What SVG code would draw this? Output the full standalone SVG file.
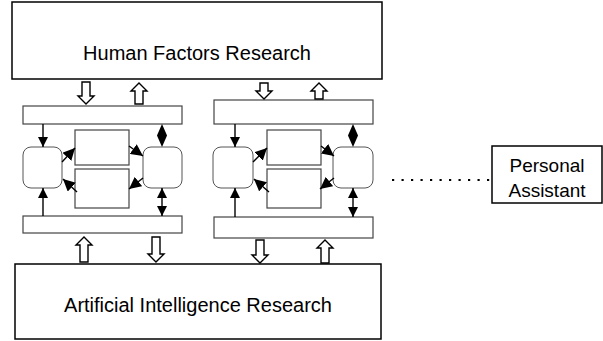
<svg xmlns="http://www.w3.org/2000/svg" width="603" height="341" viewBox="0 0 603 341">
<style>
.box{fill:#fff;stroke:#000;stroke-width:1.5}
.bar{fill:#fff;stroke:#444;stroke-width:1.2}
.rr{fill:#fff;stroke:#555;stroke-width:1}
.blk{fill:#fff;stroke:#000;stroke-width:1.4;stroke-linejoin:miter}
.ln{fill:none;stroke:#000;stroke-width:1.4}
.tri{fill:#000}
.t{font-family:"Liberation Sans",Arial,sans-serif;fill:#000;text-anchor:middle}
</style>
<defs>
<marker id="ah" viewBox="0 0 10 10" refX="10" refY="5" markerWidth="10" markerHeight="10" markerUnits="userSpaceOnUse" orient="auto-start-reverse"><path d="M0,0 L10,5 L0,10 Z" fill="#000"/></marker>
<marker id="ahb" viewBox="0 0 10 10" refX="10" refY="5" markerWidth="12" markerHeight="12" markerUnits="userSpaceOnUse" orient="auto"><path d="M0,0 L10,5 L0,10 Z" fill="#000"/></marker>
</defs>
<rect width="603" height="341" fill="#fff"/>
<g id="human-factors"><rect class="box" x="12" y="2" width="370" height="77"/><text class="t" x="197" y="60" font-size="20">Human Factors Research</text></g>
<g id="ai-research"><rect class="box" x="15" y="264" width="366" height="75"/><text class="t" x="198" y="312" font-size="20">Artificial Intelligence Research</text></g>
<g id="m1-topbar"><rect class="bar" x="23" y="106" width="159" height="18"/></g>
<g id="m1-botbar"><rect class="bar" x="23" y="216" width="159" height="17"/></g>
<g id="m1-left"><rect class="rr" x="23" y="147" width="39" height="41" rx="8"/></g>
<g id="m1-right"><rect class="rr" x="143" y="147" width="39" height="41" rx="8"/></g>
<g id="m1-ctop"><rect class="bar" x="75" y="130" width="54" height="35"/></g>
<g id="m1-cbot"><rect class="bar" x="75" y="169" width="54" height="39"/></g>
<g id="m2-topbar"><rect class="bar" x="214" y="100" width="159" height="24"/></g>
<g id="m2-botbar"><rect class="bar" x="214" y="217" width="159" height="21"/></g>
<g id="m2-left"><rect class="rr" x="213" y="147" width="40" height="41" rx="8"/></g>
<g id="m2-right"><rect class="rr" x="333" y="147" width="40" height="41" rx="8"/></g>
<g id="m2-ctop"><rect class="bar" x="267" y="130" width="54" height="35"/></g>
<g id="m2-cbot"><rect class="bar" x="267" y="169" width="54" height="39"/></g>
<g id="personal-assistant"><rect class="box" x="492" y="146" width="110" height="57"/><text class="t" x="547" y="172" font-size="19">Personal</text><text class="t" x="547" y="197" font-size="19">Assistant</text></g>
<g id="connectors">
<path class="blk" d="M82,82 H90 V96 H94 L86,104 L78,96 H82 Z"/>
<path class="blk" d="M139,83 L147,91 H143 V104 H135 V91 H131 Z"/>
<path class="blk" d="M84,237 L92,245 H88 V262 H80 V245 H76 Z"/>
<path class="blk" d="M152,237 H160 V254 H164 L156,262 L148,254 H152 Z"/>
<path class="blk" d="M260,83 H268 V91 H272 L264,99 L256,91 H260 Z"/>
<path class="blk" d="M319,83 L327,91 H323 V99 H315 V91 H311 Z"/>
<path class="blk" d="M256,240 H264 V255 H268 L260,263 L252,255 H256 Z"/>
<path class="blk" d="M325,240 L333,248 H329 V263 H321 V248 H317 Z"/>
<path class="ln" d="M43,124 V147" marker-end="url(#ah)"/>
<path class="ln" d="M43,216 V188" marker-end="url(#ah)"/>
<path class="tri" d="M162,124 L167,135.5 L162,147 L157,135.5 Z"/>
<path class="ln" d="M162,188 V216" marker-start="url(#ah)" marker-end="url(#ah)"/>
<path class="ln" d="M62,162 L75,148" marker-end="url(#ahb)"/>
<path class="ln" d="M77,192 L63,179" marker-end="url(#ahb)"/>
<path class="ln" d="M129,146 L143,156" marker-end="url(#ahb)"/>
<path class="ln" d="M143,178 L129,189" marker-end="url(#ahb)"/>
<path class="ln" d="M235,124 V147" marker-end="url(#ah)"/>
<path class="ln" d="M235,217 V188" marker-end="url(#ah)"/>
<path class="tri" d="M353,124 L358,135.5 L353,147 L348,135.5 Z"/>
<path class="ln" d="M353,188 V217" marker-start="url(#ah)" marker-end="url(#ah)"/>
<path class="ln" d="M253,162 L267,148" marker-end="url(#ahb)"/>
<path class="ln" d="M269,192 L254,179" marker-end="url(#ahb)"/>
<path class="ln" d="M321,146 L334,156" marker-end="url(#ahb)"/>
<path class="ln" d="M334,178 L320,189" marker-end="url(#ahb)"/>
<line x1="392" y1="180" x2="490" y2="180" stroke="#000" stroke-width="2.2" stroke-dasharray="2.2 7.3"/>
</g>
</svg>
